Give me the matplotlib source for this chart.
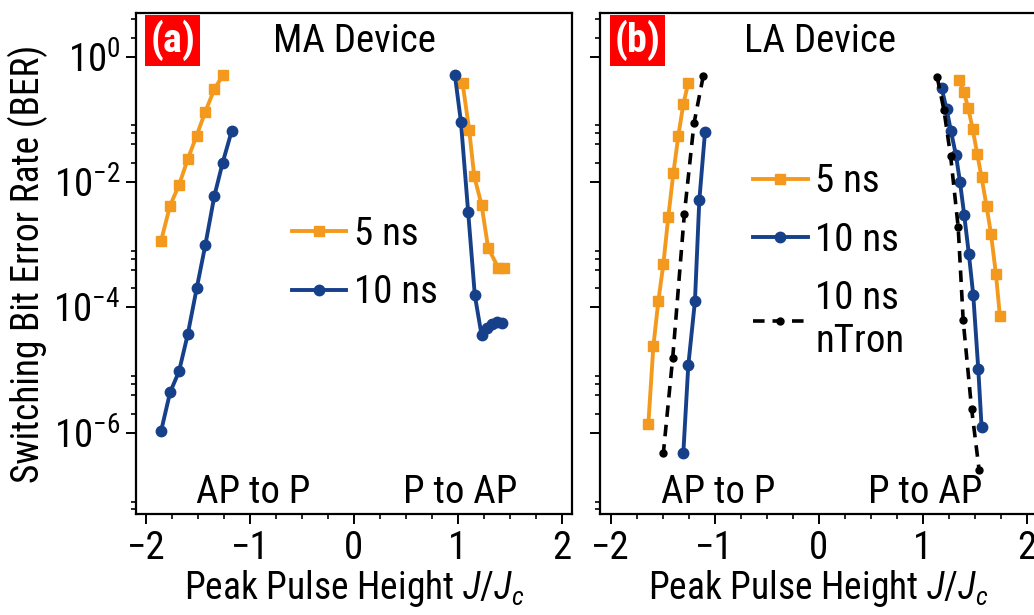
import matplotlib
matplotlib.use("Agg")
import matplotlib.pyplot as plt
from matplotlib import font_manager
from matplotlib.ticker import FixedLocator, MultipleLocator, NullFormatter

# MA device (panel a)
ma_ap_x5 = [-1.856, -1.769, -1.683, -1.599, -1.513, -1.43, -1.343, -1.263]
ma_ap_y5 = [1.14e-3, 4.2e-3, 8.9e-3, 0.023, 0.055, 0.132, 0.30, 0.50]
ma_ap_x10 = [-1.856, -1.769, -1.683, -1.599, -1.513, -1.43, -1.343, -1.263, -1.176]
ma_ap_y10 = [1.05e-6, 4.4e-6, 9.5e-6, 3.7e-5, 2.0e-4, 9.8e-4, 5.96e-3, 0.0203, 0.065]
ma_pa_x5 = [1.045, 1.109, 1.157, 1.228, 1.291, 1.388, 1.44]
ma_pa_y5 = [0.38, 0.067, 0.0124, 4.3e-3, 8.9e-4, 4.3e-4, 4.3e-4]
ma_pa_x10 = [0.971, 1.029, 1.099, 1.163, 1.228, 1.276, 1.324, 1.372, 1.42]
ma_pa_y10 = [0.51, 0.092, 3.3e-3, 1.56e-4, 3.6e-5, 4.7e-5, 5.5e-5, 5.9e-5, 5.6e-5]

# LA device (panel b)
la_ap_x5 = [-1.254, -1.302, -1.35, -1.398, -1.446, -1.494, -1.542, -1.59, -1.638]
la_ap_y5 = [0.38, 0.174, 0.054, 0.0137, 2.8e-3, 4.9e-4, 1.26e-4, 2.4e-5, 1.4e-6]
la_ap_x10 = [-1.093, -1.148, -1.19, -1.254, -1.302]
la_ap_y10 = [0.063, 5.1e-3, 1.26e-4, 1.19e-5, 4.7e-7]
la_ap_xn = [-1.11, -1.199, -1.292, -1.404, -1.494]
la_ap_yn = [0.49, 0.086, 3.07e-3, 1.56e-5, 4.7e-7]
la_pa_x5 = [1.352, 1.397, 1.439, 1.481, 1.525, 1.567, 1.615, 1.657, 1.705, 1.743]
la_pa_y5 = [0.42, 0.27, 0.15, 0.07, 0.028, 0.0118, 4.1e-3, 1.5e-3, 3.4e-4, 7.3e-5]
la_pa_x10 = [1.183, 1.231, 1.272, 1.32, 1.359, 1.4, 1.445, 1.487, 1.535, 1.567]
la_pa_y10 = [0.31, 0.145, 0.065, 0.027, 0.0101, 2.96e-3, 7e-4, 1.56e-4, 1.05e-5, 1.23e-6]
la_pa_xn = [1.14, 1.205, 1.269, 1.342, 1.39, 1.471, 1.544]
la_pa_yn = [0.47, 0.14, 0.026, 1.9e-3, 6.2e-5, 2.4e-6, 2.5e-7]

xticks = [-2, -1, 0, 1, 2]
yticks = [1e-8, 1e-6, 1e-4, 1e-2, 1e0]
yminor = [m * 10.0 ** e for e in (-8, -6, -4, -2, 0) for m in (2, 4, 6, 8)]

ORANGE = "#F39A1E"
BLUE = "#17408B"

# pick a narrow font if there is one
fam = "DejaVu Sans"
for cand in ["Liberation Sans Narrow", "Roboto Condensed", "Open Sans Condensed", "Liberation Sans"]:
    try:
        font_manager.findfont(cand, fallback_to_default=False)
        fam = cand
        break
    except Exception:
        pass
plt.rcParams["font.family"] = [fam, "DejaVu Sans"]
plt.rcParams["mathtext.fontset"] = "custom"
plt.rcParams["mathtext.rm"] = fam
plt.rcParams["mathtext.it"] = fam + ":italic"
plt.rcParams["axes.unicode_minus"] = True

fs = 28
fig = plt.figure(figsize=(10.34, 6.15), dpi=100)
ax1 = fig.add_axes([0.1312, 0.1637, 0.4222, 0.8156])
ax2 = fig.add_axes([0.5806, 0.1637, 0.4223, 0.8156])

lw = 2.8
sq = dict(color=ORANGE, marker="s", ms=7, lw=lw)
ci = dict(color=BLUE, marker="o", ms=7.5, lw=lw)
dk = dict(color="black", marker="o", ms=5, lw=2.6, ls=(0, (3.2, 2.2)))

ax1.plot(ma_ap_x5, ma_ap_y5, label="5 ns", **sq)
ax1.plot(ma_ap_x10, ma_ap_y10, label="10 ns", **ci)
ax1.plot(ma_pa_x5, ma_pa_y5, **sq)
ax1.plot(ma_pa_x10, ma_pa_y10, **ci)

ax2.plot(la_ap_x5, la_ap_y5, label="5 ns", **sq)
ax2.plot(la_ap_x10, la_ap_y10, label="10 ns", **ci)
ax2.plot(la_ap_xn, la_ap_yn, label="10 ns\nnTron", **dk)
ax2.plot(la_pa_x5, la_pa_y5, **sq)
ax2.plot(la_pa_x10, la_pa_y10, **ci)
ax2.plot(la_pa_xn, la_pa_yn, **dk)

for ax, tag, name in [(ax1, "(a)", "MA Device"), (ax2, "(b)", "LA Device")]:
    ax.set_yscale("log")
    ax.set_xlim(-2.1, 2.1)
    ax.set_ylim(5e-8, 5)
    ax.set_xticks(xticks)
    ax.xaxis.set_minor_locator(MultipleLocator(0.25))
    ax.yaxis.set_major_locator(FixedLocator(yticks))
    ax.yaxis.set_minor_locator(FixedLocator(yminor))
    ax.yaxis.set_minor_formatter(NullFormatter())
    ax.tick_params(which="major", direction="out", length=7, width=1.4, labelsize=fs, pad=4)
    ax.tick_params(which="minor", direction="out", length=3.5, width=1.2)
    for s in ax.spines.values():
        s.set_linewidth(1.6)
    ax.set_xlabel("Peak Pulse Height $J/J_c$", fontsize=27)
    ax.xaxis.set_label_coords(0.5, -0.108)
    ax.text(0.085, 0.945, tag, transform=ax.transAxes, fontsize=fs + 1, color="white",
            fontweight="bold", ha="center", va="center",
            bbox=dict(boxstyle="square,pad=0.12", fc="#FF0000", ec="none"))
    ax.text(0.502, 0.942, name, transform=ax.transAxes, fontsize=fs, ha="center", va="center")
    ax.text(0.27, 0.044, "AP to P", transform=ax.transAxes, fontsize=fs, ha="center", va="center")
    ax.text(0.743, 0.044, "P to AP", transform=ax.transAxes, fontsize=fs, ha="center", va="center")

ax2.tick_params(axis="y", labelleft=False)
ax1.set_ylabel("Switching Bit Error Rate (BER)", fontsize=27)
ax1.yaxis.set_label_coords(-0.2, 0.5)

leg_kw = dict(loc="upper left", frameon=False, fontsize=fs, borderpad=0, borderaxespad=0,
              handlelength=1.4, handletextpad=0.2, labelspacing=0.55)
ax1.legend(bbox_to_anchor=(0.358, 0.595), **leg_kw)
ax2.legend(bbox_to_anchor=(0.35, 0.7), **leg_kw)

fig.savefig("out.png", dpi=100)
